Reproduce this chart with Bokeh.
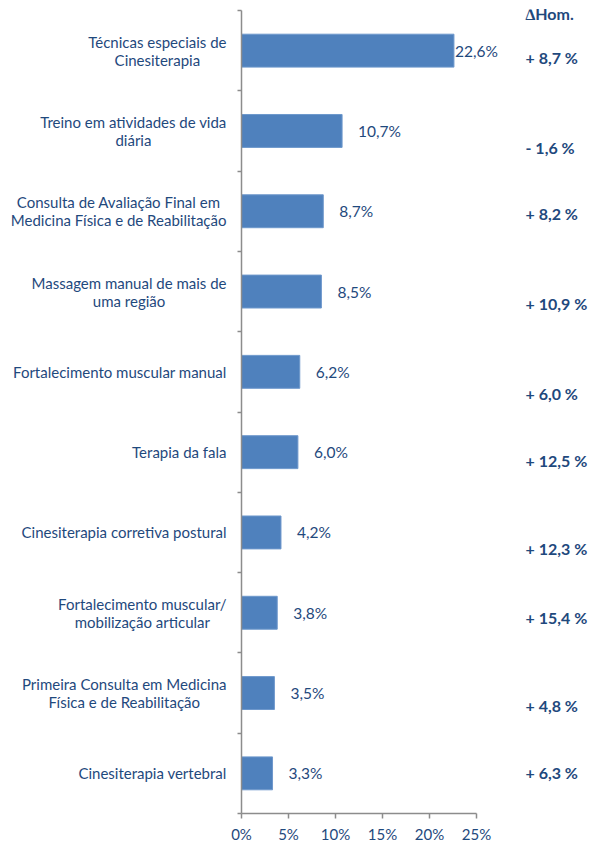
import os
import subprocess

from bokeh.plotting import figure
from bokeh.models import ColumnDataSource, LabelSet, Label, Range1d, FixedTicker
from bokeh.embed import file_html
from bokeh.resources import INLINE
from bokeh.core.properties import value

# ---------------- data ----------------
CATEGORY_LINES = [
    ["Técnicas especiais de", "Cinesiterapia"],
    ["Treino em atividades de vida", "diária"],
    ["Consulta de Avaliação Final em", "Medicina Física e de Reabilitação"],
    ["Massagem manual de mais de", "uma região"],
    ["Fortalecimento muscular manual"],
    ["Terapia da fala"],
    ["Cinesiterapia corretiva postural"],
    ["Fortalecimento muscular/", "mobilização articular"],
    ["Primeira Consulta em Medicina", "Física e de Reabilitação"],
    ["Cinesiterapia vertebral"],
]
SHARES = [22.6, 10.7, 8.7, 8.5, 6.2, 6.0, 4.2, 3.8, 3.5, 3.3]
SHARE_LABELS = ["22,6%", "10,7%", "8,7%", "8,5%", "6,2%", "6,0%", "4,2%", "3,8%", "3,5%", "3,3%"]
DELTA_HEADER = "\u2206Hom."
DELTA_HOM = ["+ 8,7 %", "- 1,6 %", "+ 8,2 %", "+ 10,9 %", "+ 6,0 %",
             "+ 12,5 %", "+ 12,3 %", "+ 15,4 %", "+ 4,8 %", "+ 6,3  %"]
X_TICKS = [0, 5, 10, 15, 20, 25]
X_TICK_LABELS = ["0%", "5%", "10%", "15%", "20%", "25%"]

# ---------------- layout / style ----------------
W, H = 590, 849
PLOT_LEFT, PLOT_RIGHT = 241, 476      # pixel position of 0% and 25%
PLOT_TOP, PLOT_BOTTOM = 10, 813       # pixel position of category band edges
FONT = "Lato"
TXT = "#1F497D"
BAR = "#4F81BD"
AXIS = "#8C8C8C"
CAT_SIZE = 15
VAL_SIZE = 15.5
TICK_SIZE = 15
DELTA_SIZE = 16
LABEL_GAP_PX = 15
DELTA_GAP_PX = 49
VALUE_GAP_PX = [1, 16, 16, 16, 16, 16, 16, 16, 16, 16]
DELTA_SHIFT = [0.09, 0.2, 0.03, 0.15, 0.27, 0.1, 0.2, 0.06, 0.15, -0.01]  # category units
HEADER_POS = 0.04
LINE_HALF = 0.112  # half line spacing in category units
N = len(SHARES)
XMAX = X_TICKS[-1]


def _font_path(family, style="Regular"):
    try:
        out = subprocess.run(["fc-match", "-f", "%{file}", f"{family}:style={style}"],
                             capture_output=True, text=True, timeout=5).stdout.strip()
        if out and os.path.exists(out):
            return out
    except Exception:
        pass
    return None


_FONT_OBJ = None


def text_width(s, size):
    global _FONT_OBJ
    try:
        from PIL import ImageFont
        if _FONT_OBJ is None:
            _FONT_OBJ = ImageFont.truetype(_font_path(FONT), 100)
        return _FONT_OBJ.getlength(s) * size / 100.0
    except Exception:
        return len(s) * 0.5 * size


# ranges so that the frame fills the canvas and axes sit at the reference spots
pxu_x = (PLOT_RIGHT - PLOT_LEFT) / XMAX
pxu_y = (PLOT_BOTTOM - PLOT_TOP) / N
x_range = Range1d(-PLOT_LEFT / pxu_x, XMAX + (W - PLOT_RIGHT) / pxu_x)
y_range = Range1d(N + (H - PLOT_BOTTOM) / pxu_y, -PLOT_TOP / pxu_y)

centers = [i + 0.5 for i in range(N)]

p = figure(width=W, height=H, output_backend="svg", toolbar_location=None,
           x_range=x_range, y_range=y_range,
           min_border_left=0, min_border_right=0, min_border_top=0, min_border_bottom=0)
p.outline_line_color = None
p.xgrid.visible = False
p.ygrid.visible = False
p.background_fill_color = "white"

bars = ColumnDataSource(dict(y=centers, v=SHARES, lab=SHARE_LABELS, off=VALUE_GAP_PX,
                             dx=[XMAX] * N,
                             dy=[c + s for c, s in zip(centers, DELTA_SHIFT)], dl=DELTA_HOM))
p.hbar(y="y", right="v", left=0, height=0.41, source=bars,
       fill_color=BAR, line_color="#6E98CC", line_width=1)

p.add_layout(LabelSet(x="v", y="y", text="lab", x_offset="off", source=bars,
                      text_font=value(FONT), text_font_size=value(f"{VAL_SIZE}px"),
                      text_color=TXT, text_baseline="middle", text_align="left"))

# category labels: block right-aligned next to the axis, lines centered within block
lx, ly, lt, loff = [], [], [], []
for c, lines in zip(centers, CATEGORY_LINES):
    wmax = max(text_width(t, CAT_SIZE) for t in lines)
    n = len(lines)
    for j, t in enumerate(lines):
        lx.append(0)
        ly.append(c + (j - (n - 1) / 2) * 2 * LINE_HALF)
        lt.append(t)
        loff.append(-LABEL_GAP_PX - wmax / 2)
cats = ColumnDataSource(dict(x=lx, y=ly, t=lt, off=loff))
p.add_layout(LabelSet(x="x", y="y", text="t", x_offset="off", source=cats,
                      text_font=value(FONT), text_font_size=value(f"{CAT_SIZE}px"),
                      text_color=TXT, text_baseline="middle", text_align="center"))

# delta column
p.add_layout(LabelSet(x="dx", y="dy", text="dl", x_offset=DELTA_GAP_PX, source=bars,
                      text_font=value(FONT), text_font_size=value(f"{DELTA_SIZE}px"),
                      text_color=TXT, text_font_style="bold",
                      text_baseline="middle", text_align="left"))
p.add_layout(Label(x=XMAX, y=HEADER_POS, text=DELTA_HEADER, x_offset=DELTA_GAP_PX,
                   text_font=FONT, text_font_size=f"{DELTA_SIZE}px", text_color=TXT,
                   text_font_style="bold", text_baseline="middle", text_align="left"))

# axes
xa = p.xaxis[0]
xa.fixed_location = N
xa.bounds = (0, XMAX)
xa.ticker = FixedTicker(ticks=X_TICKS)
xa.major_label_overrides = {t: l for t, l in zip(X_TICKS, X_TICK_LABELS)}
xa.minor_tick_line_color = None
xa.major_tick_in = 0
xa.major_tick_out = 5
xa.axis_line_color = AXIS
xa.axis_line_width = 1.5
xa.major_tick_line_color = AXIS
xa.major_tick_line_width = 1.5
xa.major_label_text_font = FONT
xa.major_label_text_font_size = f"{TICK_SIZE}px"
xa.major_label_text_color = TXT
xa.major_label_standoff = 6

ya = p.yaxis[0]
ya.fixed_location = 0
ya.bounds = (0, N)
ya.ticker = FixedTicker(ticks=list(range(N + 1)))
ya.major_label_overrides = {i: "" for i in range(N + 1)}
ya.major_label_text_font_size = "0px"
ya.minor_tick_line_color = None
ya.major_tick_in = 0
ya.major_tick_out = 4
ya.axis_line_color = AXIS
ya.axis_line_width = 1.5
ya.major_tick_line_color = AXIS
ya.major_tick_line_width = 1.5

open("out.html", "w").write(file_html(p, INLINE))
